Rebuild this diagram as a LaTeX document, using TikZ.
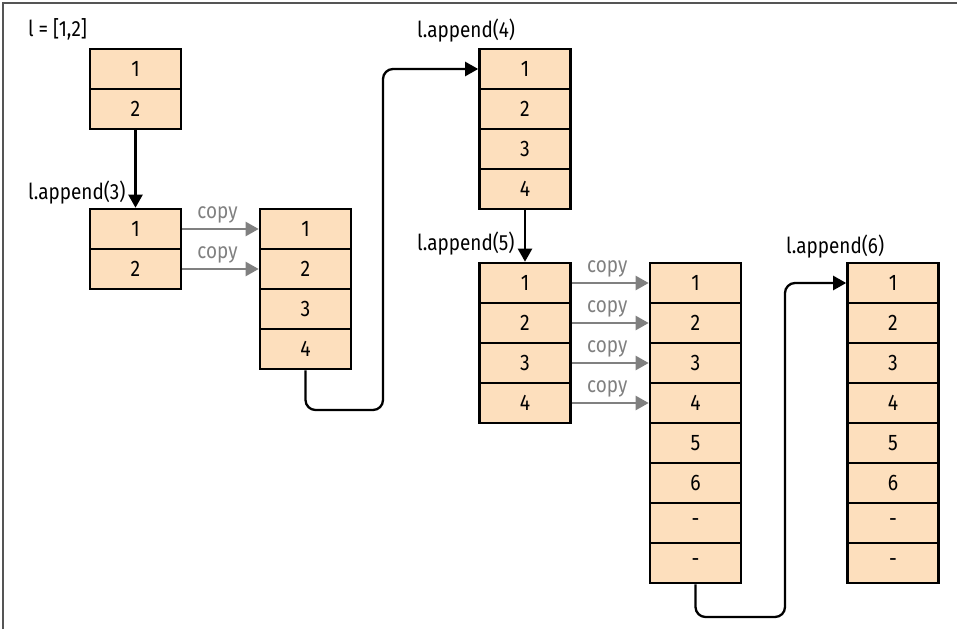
\documentclass[tikz,border=0pt]{standalone}
\usepackage{fontspec}
\setmainfont{Fira Sans}[FakeStretch=0.86]
\usetikzlibrary{arrows.meta}
\definecolor{peach}{HTML}{FDDFBD}
\definecolor{cpgray}{HTML}{808080}
\definecolor{framegray}{HTML}{555555}
\tikzset{
  cell/.style={draw=black, line width=2.6pt, fill=peach, minimum width=91pt, minimum height=40pt, inner sep=0pt, font=\fontsize{22.5}{25}\selectfont},
  lbl/.style={anchor=base west, inner sep=0pt, font=\fontsize{22}{25}\selectfont},
  blk/.style={draw=black, line width=2.3pt, -{Triangle[length=13pt,width=14pt]}},
  cpy/.style={draw=cpgray, line width=2.3pt, -{Triangle[length=13pt,width=14pt]}},
  cplbl/.style={anchor=base, inner sep=0pt, text=cpgray, yshift=11pt, xshift=-3pt, font=\fontsize{22}{25}\selectfont}
}
\begin{document}
\begin{tikzpicture}[x=1pt,y=-1pt]
\useasboundingbox (0,0) rectangle (957,629);
\draw[framegray, line width=1.5pt] (3,629) -- (3,3) -- (957,3);
% box 1
\node[cell] (a1) at (135.5,69) {1};
\node[cell] (a2) at (135.5,109) {2};
% box 2
\node[cell] (b1) at (135.5,229) {1};
\node[cell] (b2) at (135.5,269) {2};
% box 3
\foreach \i/\t in {1/1,2/2,3/3,4/4}{
  \node[cell] (c\i) at (305.5,189+40*\i) {\t};
}
% box 4
\foreach \i/\t in {1/1,2/2,3/3,4/4}{
  \node[cell] (d\i) at (525,29+40*\i) {\t};
}
% box 5
\foreach \i/\t in {1/1,2/2,3/3,4/4}{
  \node[cell] (e\i) at (525,243+40*\i) {\t};
}
% box 6
\foreach \i/\t in {1/1,2/2,3/3,4/4,5/5,6/6,7/-,8/-}{
  \node[cell] (f\i) at (695.5,243+40*\i) {\t};
}
% box 7
\foreach \i/\t in {1/1,2/2,3/3,4/4,5/5,6/6,7/-,8/-}{
  \node[cell] (g\i) at (893,243+40*\i) {\t};
}
% labels
\node[lbl] (t1) at (28,36) {l = [1,2]};
\node[lbl] (t2) at (28,199) {l.append(3)};
\node[lbl] (t3) at (417,37) {l.append(4)};
\node[lbl] (t4) at (417,250) {l.append(5)};
\node[lbl] (t5) at (786,253) {l.append(6)};
% connectors
\coordinate (k1) at (383,410);
\coordinate (k2) at (785,617);
\draw[blk] (a2.south) -- (b1.north);
\draw[blk, rounded corners=10pt] (c4.south) |- (k1) |- (d1.west);
\draw[blk] (d4.south) -- (e1.north);
\draw[blk, rounded corners=10pt] (f8.south) |- (k2) |- (g1.west);
% copy arrows
\draw[cpy] (b1.east) -- node[cplbl] {copy} (c1.west);
\draw[cpy] (b2.east) -- node[cplbl] {copy} (c2.west);
\foreach \i in {1,2,3,4}{
  \draw[cpy] (e\i.east) -- node[cplbl] {copy} (f\i.west);
}
\end{tikzpicture}
\end{document}
